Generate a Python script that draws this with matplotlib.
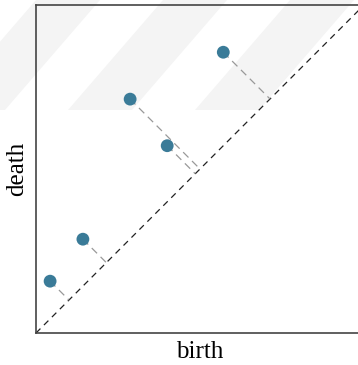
import matplotlib.pyplot as plt
from matplotlib.patches import Polygon

plt.rcParams['font.family'] = ['Liberation Serif', 'DejaVu Serif']

# persistence pairs (birth, death)
births = [0.043, 0.143, 0.287, 0.400, 0.571]
deaths = [0.158, 0.286, 0.713, 0.571, 0.856]

W, H = 358, 365
fig = plt.figure(figsize=(W / 100, H / 100), dpi=100)

# faint watermark stripes behind the plot (pixel coords, y from top)
for x0 in [-59, 68, 195]:
    pts = [(x0, 110), (x0 + 64, 110), (x0 + 64 + 95, 0), (x0 + 95, 0)]
    fig.add_artist(Polygon([(px / W, 1 - py / H) for px, py in pts],
                           closed=True, transform=fig.transFigure,
                           facecolor='#f4f4f4', edgecolor='none', zorder=0))

ax = fig.add_axes([36 / W, 32 / H, 328 / W, 328 / H])
ax.patch.set_alpha(0)
ax.set_xlim(0, 1)
ax.set_ylim(0, 1)

# diagonal
ax.plot([0, 1], [0, 1], color='#222222', lw=0.9, ls=(0, (5, 4)), zorder=2)

# distance to diagonal
for b, d in zip(births, deaths):
    m = (b + d) / 2
    ax.plot([b, m], [d, m], color='#999999', lw=0.9, ls=(0, (6, 4)), zorder=2)

ax.scatter(births, deaths, s=85, color='#3a7b98', edgecolors='none', zorder=3)

ax.set_xticks([])
ax.set_yticks([])
for side in ['left', 'top', 'bottom', 'right']:
    ax.spines[side].set_color('#444444')
    ax.spines[side].set_linewidth(1.2)

ax.set_xlabel('birth', fontsize=18, labelpad=6)
ax.set_ylabel('death', fontsize=18, labelpad=6)

fig.savefig('out.png', dpi=100)
